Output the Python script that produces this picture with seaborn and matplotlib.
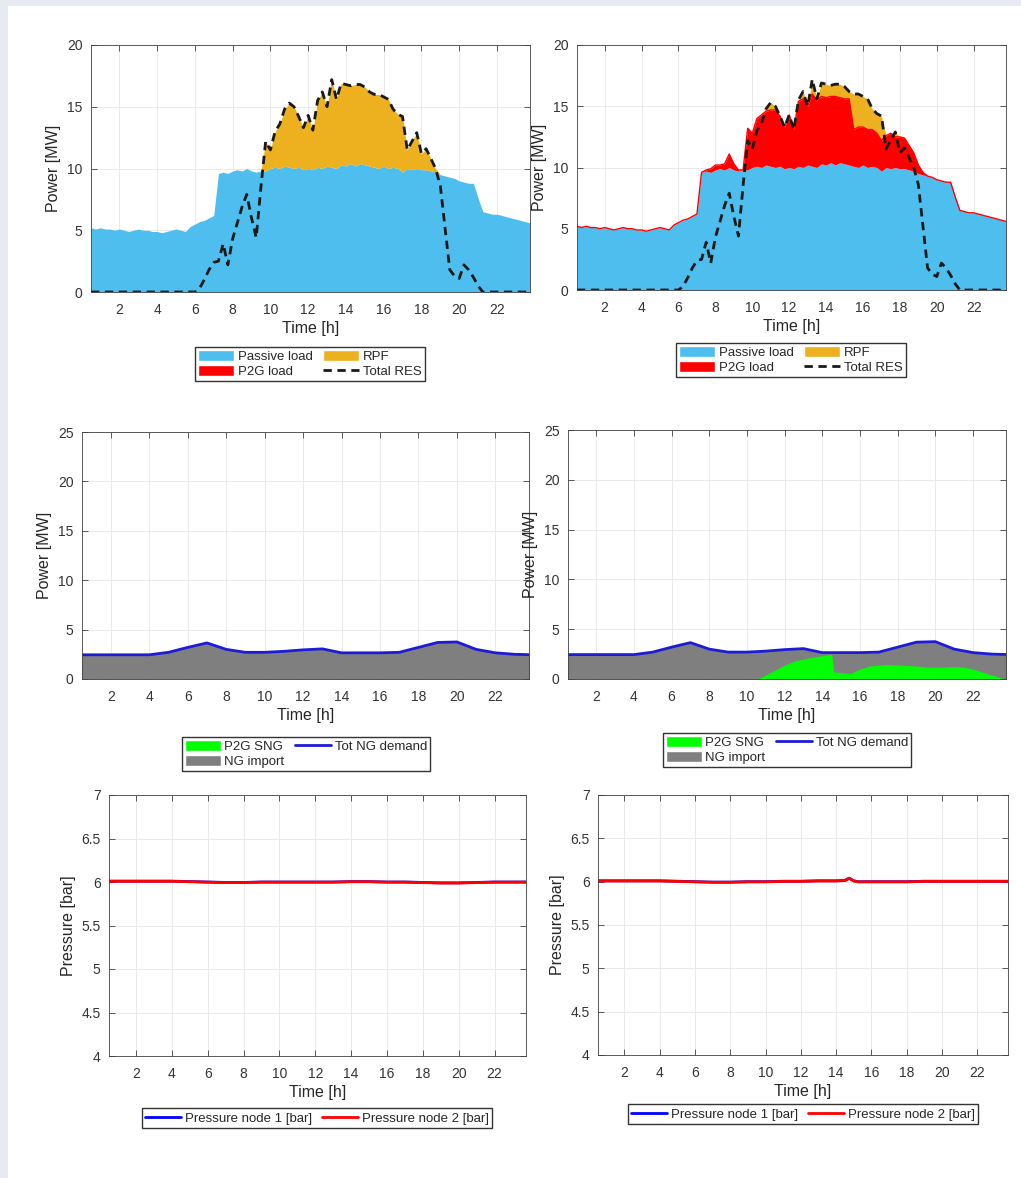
import numpy as np
import seaborn as sns
import matplotlib.pyplot as plt
from matplotlib.patches import Patch, Rectangle
from matplotlib.lines import Line2D

# quarter-hour grid for the power balance plots
time = np.arange(0.5, 23.76, 0.25)

passive_load = [5.2, 5.1, 5.2, 5.1, 5.1, 5.0, 5.1, 5.0, 4.9, 5.0,
                5.1, 5.0, 5.0, 4.9, 4.9, 4.8, 4.9, 5.0, 5.1, 5.0,
                4.9, 5.3, 5.5, 5.7, 5.8, 6.0, 6.2, 9.6, 9.7, 9.6,
                9.8, 9.9, 9.8, 10.0, 9.8, 9.7, 9.8, 9.8, 10.0, 10.1,
                10.0, 10.2, 10.1, 10.0, 10.1, 9.9, 10.0, 9.9, 10.1, 10.0,
                10.2, 10.1, 10.0, 10.3, 10.2, 10.4, 10.2, 10.4, 10.3, 10.2,
                10.1, 10.0, 10.2, 10.0, 10.1, 10.0, 9.7, 10.0, 9.9, 10.0,
                9.9, 9.9, 9.8, 9.7, 9.5, 9.4, 9.3, 9.2, 9.0, 8.9,
                8.8, 8.8, 7.6, 6.5, 6.4, 6.3, 6.3, 6.2, 6.1, 6.0,
                5.9, 5.8, 5.7, 5.6]

total_res = [0.0] * 23 + [
    0.3, 1.0, 1.8, 2.4, 2.5, 3.9, 2.2, 4.3, 5.6, 6.9,
    7.9, 6.0, 4.4, 8.5, 12.2, 11.5, 13.0, 13.6, 14.8, 15.3,
    15.0, 14.2, 13.3, 14.3, 13.1, 15.5, 16.2, 15.0, 17.2, 15.6,
    16.9, 16.8, 16.7, 16.8, 16.8, 16.6, 16.2, 16.0, 16.0, 15.8,
    15.6, 14.8, 14.4, 14.2, 11.5, 12.2, 12.9, 11.2, 11.6, 10.8,
    10.0, 8.6, 5.2, 1.8, 1.3, 1.1, 2.2, 1.8, 1.2, 0.5,
    0.0] + [0.0] * 10

p2g_load = [0.0] * 27 + [
    0.0, 0.1, 0.3, 0.4, 0.3, 0.5, 1.1, 0.5, 0.1, 0.0,
    3.4, 2.8, 3.9, 4.3, 4.4, 4.6, 4.7, 4.1, 3.4, 4.3,
    3.2, 5.3, 5.6, 4.8, 5.9, 5.5, 5.5, 5.5, 5.4, 5.6,
    5.3, 5.3, 5.4, 3.0, 3.3, 3.1, 3.1, 3.0, 2.8, 2.5,
    2.6, 2.9, 2.5, 2.6, 2.5, 2.0, 1.5, 0.7, 0.2] + [0.0] * 18

# natural gas balance
ng_hours = list(range(0, 25))
ng_demand = [2.45, 2.45, 2.45, 2.45, 2.45, 2.7, 3.2, 3.65, 3.0, 2.7,
             2.7, 2.8, 2.95, 3.05, 2.65, 2.65, 2.65, 2.7, 3.2, 3.7,
             3.75, 3.0, 2.65, 2.5, 2.45]
sng_hours = [10.5, 11, 11.5, 12, 12.5, 13, 13.5, 14, 14.5, 14.6,
             15, 15.5, 16, 16.5, 17, 17.5, 18, 18.5, 19, 19.5,
             20, 20.5, 21, 21.5, 22, 22.5, 23, 23.5, 23.75]
p2g_sng = [0.0, 0.4, 0.9, 1.4, 1.8, 2.0, 2.2, 2.35, 2.5, 0.7,
           0.65, 0.55, 1.0, 1.3, 1.4, 1.45, 1.4, 1.35, 1.3, 1.2,
           1.2, 1.2, 1.25, 1.2, 1.0, 0.7, 0.4, 0.1, 0.0]

# node pressures
p_hours = list(range(0, 25))
p_node1_left = [6.01, 6.01, 6.01, 6.01, 6.01, 6.005, 6.0, 5.995, 5.995, 6.0,
                6.0, 6.0, 6.0, 6.0, 6.005, 6.005, 6.0, 6.0, 5.995, 5.99,
                5.99, 5.995, 6.0, 6.0, 6.0]
p_node2_left = [6.008, 6.008, 6.008, 6.008, 6.008, 6.003, 5.998, 5.993, 5.993, 5.998,
                5.998, 5.998, 5.998, 5.998, 6.003, 6.003, 5.998, 5.998, 5.993, 5.988,
                5.988, 5.993, 5.998, 5.998, 5.998]
p_hours_right = [0, 1, 2, 3, 4, 5, 6, 7, 8, 9, 10, 11, 12, 13, 14,
                 14.5, 14.75, 15, 15.25, 16, 17, 18, 19, 20, 21, 22, 23, 24]
p_node1_right = [6.01, 6.01, 6.01, 6.01, 6.01, 6.005, 6.0, 5.995, 5.995, 6.0,
                 6.0, 6.005, 6.005, 6.01, 6.01, 6.015, 6.04, 6.01, 6.0, 6.0,
                 6.0, 6.0, 6.005, 6.005, 6.005, 6.005, 6.005, 6.005]
p_node2_right = [6.008, 6.008, 6.008, 6.008, 6.008, 6.003, 5.998, 5.993, 5.993, 5.998,
                 5.998, 6.003, 6.003, 6.008, 6.008, 6.013, 6.038, 6.008, 5.998, 5.998,
                 5.998, 5.998, 6.003, 6.003, 6.003, 6.003, 6.003, 6.003]

load = np.array(passive_load)
res = np.array(total_res)
p2g = np.array(p2g_load)
rpf_left = np.clip(res - load, 0, None)
rpf_right = np.clip(res - load - p2g, 0, None)

BLUE_AREA = '#4dbeee'
ORANGE = '#edb120'
RED = '#ff0000'
GREEN = '#00ff00'
GRAY = '#7f7f7f'
NG_BLUE = '#1c1cd6'

sns.set_theme(style="ticks")
plt.rcParams['font.family'] = ['Liberation Sans', 'DejaVu Sans']
plt.rcParams['text.color'] = '#262626'
plt.rcParams['axes.labelcolor'] = '#262626'

W, H = 1021, 1178
fig = plt.figure(figsize=(W / 100, H / 100), dpi=100)
fig.patch.set_facecolor('#e7ebf1')
fig.add_artist(Rectangle((8 / W, 0), 1, 1 - 6 / H, transform=fig.transFigure,
                         facecolor='white', edgecolor='none', zorder=-10))


def rect(x0, y0, x1, y1):
    return [x0 / W, 1 - y1 / H, (x1 - x0) / W, (y1 - y0) / H]


def style_axes(ax, ylim, yticks, ylabel, yticklabels=None):
    ax.set_xlim(0.5, 23.75)
    ax.set_xticks(range(2, 23, 2))
    ax.set_ylim(*ylim)
    ax.set_yticks(yticks)
    if yticklabels is not None:
        ax.set_yticklabels(yticklabels)
    ax.grid(True, color='#e6e6e6', lw=0.6)
    ax.set_axisbelow(True)
    ax.tick_params(direction='in', top=True, right=True, length=4, width=0.6,
                   colors='#404040', labelsize=10, labelcolor='#333333', pad=6)
    ax.tick_params(axis='x', pad=8)
    for s in ax.spines.values():
        s.set_color('#404040')
        s.set_linewidth(0.6)
    ax.set_xlabel('Time [h]', fontsize=11.5, labelpad=3)
    ax.set_ylabel(ylabel, fontsize=11.5, labelpad=4)


def legend_at(handles, cx, cy, ncol):
    fig.legend(handles=handles, loc='center', bbox_to_anchor=(cx / W, 1 - cy / H),
               ncol=ncol, fontsize=9.5, frameon=True, fancybox=False,
               edgecolor='#333333', framealpha=1, borderpad=0.25,
               labelspacing=0.15, handlelength=2.7, handleheight=0.9,
               handletextpad=0.3, columnspacing=0.8, borderaxespad=0)


power_handles = [Patch(facecolor=BLUE_AREA, label='Passive load'),
                 Patch(facecolor=RED, label='P2G load'),
                 Patch(facecolor=ORANGE, label='RPF'),
                 Line2D([], [], color='k', lw=2, linestyle=(0, (3, 2)), label='Total RES')]

# --- top left
ax = fig.add_axes(rect(91, 45, 530, 292))
ax.stackplot(time, load, rpf_left, colors=[BLUE_AREA, ORANGE], lw=0)
sns.lineplot(x=time, y=res, color='k', lw=2, linestyle=(0, (3, 2)), ax=ax)
style_axes(ax, (0, 20), range(0, 21, 5), 'Power [MW]')
legend_at(power_handles, 310, 364, 2)

# --- top right
ax = fig.add_axes(rect(577, 45, 1006, 290))
ax.stackplot(time, load, p2g, rpf_right, colors=[BLUE_AREA, RED, ORANGE], lw=0)
ax.plot(time, load + p2g, color=RED, lw=1)
sns.lineplot(x=time, y=res, color='k', lw=2, linestyle=(0, (3, 2)), ax=ax)
style_axes(ax, (0, 20), range(0, 21, 5), 'Power [MW]')
legend_at(power_handles, 791, 360, 2)

ng_handles = [Patch(facecolor=GREEN, label='P2G SNG'),
              Patch(facecolor=GRAY, label='NG import'),
              Line2D([], [], color=NG_BLUE, lw=2, label='Tot NG demand')]

# --- middle left
ax = fig.add_axes(rect(82, 432, 529, 679))
ax.fill_between(ng_hours, 0, ng_demand, color=GRAY, lw=0)
sns.lineplot(x=ng_hours, y=ng_demand, color=NG_BLUE, lw=2, ax=ax)
style_axes(ax, (0, 25), range(0, 26, 5), 'Power [MW]')
legend_at(ng_handles, 306, 754, 2)

# --- middle right
ax = fig.add_axes(rect(568, 430, 1006, 679))
ax.fill_between(ng_hours, 0, ng_demand, color=GRAY, lw=0)
ax.fill_between(sng_hours, 0, p2g_sng, color=GREEN, lw=0)
sns.lineplot(x=ng_hours, y=ng_demand, color=NG_BLUE, lw=2, ax=ax)
style_axes(ax, (0, 25), range(0, 26, 5), 'Power [MW]')
legend_at(ng_handles, 787, 750, 2)

p_ticks = [4, 4.5, 5, 5.5, 6, 6.5, 7]
p_labels = ['4', '4.5', '5', '5.5', '6', '6.5', '7']
p_handles = [Line2D([], [], color='#0000ff', lw=2, label='Pressure node 1 [bar]'),
             Line2D([], [], color=RED, lw=2, label='Pressure node 2 [bar]')]

# --- bottom left
ax = fig.add_axes(rect(109, 795, 526, 1056))
sns.lineplot(x=p_hours, y=p_node1_left, color='#0000ff', lw=2, ax=ax)
sns.lineplot(x=p_hours, y=p_node2_left, color=RED, lw=2, ax=ax)
style_axes(ax, (4, 7), p_ticks, 'Pressure [bar]', p_labels)
legend_at(p_handles, 317, 1118, 2)

# --- bottom right
ax = fig.add_axes(rect(598, 795, 1008, 1055))
sns.lineplot(x=p_hours_right, y=p_node1_right, color='#0000ff', lw=2, ax=ax)
sns.lineplot(x=p_hours_right, y=p_node2_right, color=RED, lw=2, ax=ax)
style_axes(ax, (4, 7), p_ticks, 'Pressure [bar]', p_labels)
legend_at(p_handles, 803, 1114, 2)

fig.savefig('out.png', dpi=100, facecolor=fig.get_facecolor())
